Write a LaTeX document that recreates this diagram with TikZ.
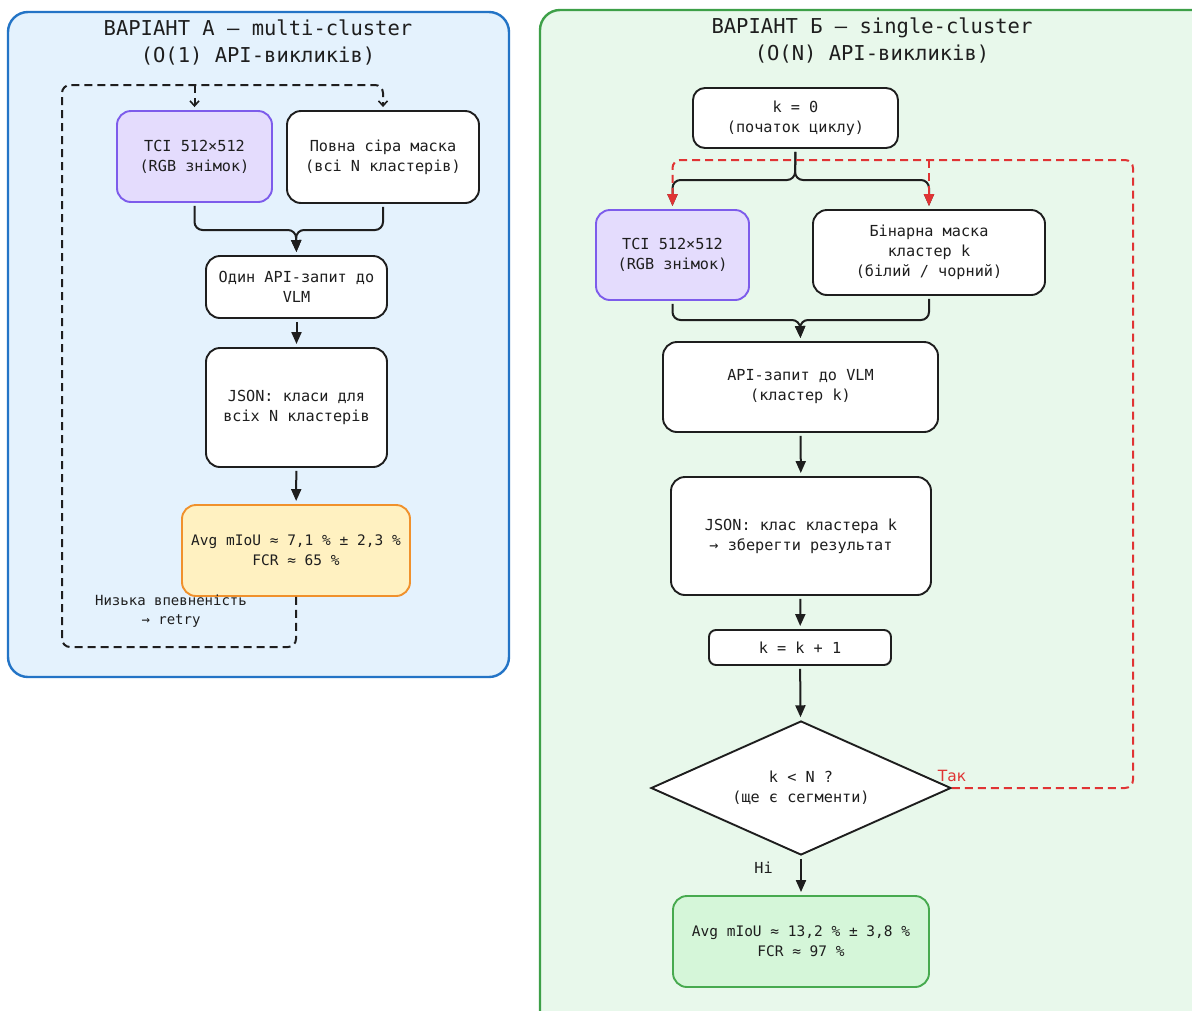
\documentclass[tikz,border=0pt]{standalone}
\usepackage{fontspec}
\setmainfont{DejaVu Sans Mono}
\newfontfamily\sansfont{DejaVu Sans}
\usetikzlibrary{shapes.geometric,arrows.meta,positioning}
\definecolor{cadreBleu}{HTML}{2374C6}
\definecolor{fondBleu}{HTML}{E4F2FD}
\definecolor{cadreVert}{HTML}{3DA048}
\definecolor{fondVert}{HTML}{E8F8EB}
\definecolor{violetImg}{HTML}{7D5CEB}
\definecolor{fondViolet}{HTML}{E4DCFD}
\definecolor{orangeRes}{HTML}{F0912C}
\definecolor{fondJaune}{HTML}{FFF1C1}
\definecolor{vertRes}{HTML}{47AA4F}
\definecolor{fondVertRes}{HTML}{D5F6D9}
\definecolor{rougeBoucle}{HTML}{E03434}
\definecolor{encre}{HTML}{1E1E1E}

\begin{document}
\begin{tikzpicture}[x=1pt,y=-1pt,font=\fontsize{15.2}{20}\selectfont,text=encre,
  boite/.style={draw=encre,line width=1.9pt,fill=white,rounded corners=14pt,
                align=center,inner sep=4pt},
  img/.style={boite,draw=violetImg,fill=fondViolet},
  resA/.style={boite,draw=orangeRes,fill=fondJaune,font=\fontsize{14.5}{20}\selectfont},
  resB/.style={boite,draw=vertRes,fill=fondVertRes,font=\fontsize{14.5}{20}\selectfont},
  decision/.style={diamond,draw=encre,line width=1.9pt,fill=white,align=center,
                   inner sep=0pt,aspect=2.24},
  titre/.style={align=center,font=\fontsize{20.5}{27}\selectfont},
  fleche/.style={draw=encre,line width=2pt,rounded corners=8pt,
                 -{Triangle[length=12pt,width=10pt]},shorten >=3pt,shorten <=3pt},
  retry/.style={draw=encre,line width=2pt,dash pattern=on 8pt off 5pt,
                rounded corners=8pt,-{Straight Barb[length=5pt,width=9pt,line width=1.6pt]},shorten >=3pt},
  boucle/.style={draw=rougeBoucle,line width=2pt,dash pattern=on 8pt off 5pt,
                 rounded corners=8pt,-{Triangle[length=12pt,width=10pt]},shorten >=3pt}]
  \useasboundingbox (0,0) rectangle (1192,1010);
  \clip (0,0) rectangle (1192,1010);
  \fill[white] (0,0) rectangle (1192,1010);

  % Cadres
  \draw[cadreBleu,fill=fondBleu,line width=2.4pt,rounded corners=20pt] (8,12) rectangle (509,677);
  \draw[cadreVert,fill=fondVert,line width=2.4pt,rounded corners=20pt] (540,10) rectangle (1220,1040);
  \node[titre] (titreA) at (258,42.5) {ВАРІАНТ А — multi-cluster\\(O(1) API-викликів)};
  \node[titre] (titreB) at (872,40.5) {ВАРІАНТ Б — single-cluster\\(O(N) API-викликів)};

  % Варіант А
  \node[img,minimum width=155pt,minimum height=91pt] (tciA) at (194.5,156.5) {TCI 512×512\\(RGB знімок)};
  \node[boite,minimum width=192pt,minimum height=92pt] (maskA) at (383,157) {Повна сіра маска\\(всі N кластерів)};
  \node[boite,minimum width=181pt,minimum height=62pt] (oneA) at (296.5,287) {Один API-запит до\\VLM};
  \node[boite,minimum width=181pt,minimum height=119pt] (jsonA) at (296.5,407.5) {JSON: класи для\\всіх N кластерів};
  \node[resA,minimum width=228pt,minimum height=91pt] (resA) at (296,550.5) {Avg mIoU ≈ 7,1 \% ± 2,3 \%\\FCR ≈ 65 \%};
  \node[font=\fontsize{14}{19}\selectfont,align=center] (retryA) at (171,611) {Низька впевненість\\→ retry};

  \coordinate (mA) at (296,230);
  \draw[fleche] (tciA.south) |- (mA) -- (oneA.north);
  \draw[fleche] (maskA.south) |- (mA) -- (oneA.north);
  \draw[fleche] (oneA) -- (jsonA);
  \draw[fleche] (jsonA) -- (resA);

  % Петля retry
  \coordinate (bA) at (62,647);
  \coordinate (tA) at (62,85);
  \draw[retry] (resA.south) |- (bA) -- (tA) -| (maskA.north);
  \draw[retry] (tciA.north |- tA) -- (tciA.north);

  % Варіант Б
  \node[boite,minimum width=205pt,minimum height=60pt,rounded corners=12pt] (k0) at (795.5,118) {k = 0\\(початок циклу)};
  \node[img,minimum width=153pt,minimum height=90pt] (tciB) at (672.5,255) {TCI 512×512\\(RGB знімок)};
  \node[boite,minimum width=232pt,minimum height=85pt] (maskB) at (929,252.5) {Бінарна маска\\кластер k\\(білий / чорний)};
  \node[boite,minimum width=275pt,minimum height=90pt] (apiB) at (800.5,387) {API-запит до VLM\\(кластер k)};
  \node[boite,minimum width=260pt,minimum height=118pt] (jsonB) at (801,536) {JSON: клас кластера k\\→ зберегти результат};
  \node[boite,minimum width=182pt,minimum height=35pt,rounded corners=7pt] (incB) at (800,647.5) {k = k + 1};
  \node[decision,minimum width=300pt,minimum height=134pt] (dec) at (801,788) {k < N ?\\(ще є сегменти)};
  \node[resB,minimum width=256pt,minimum height=91pt] (resB) at (801,941.5) {Avg mIoU ≈ 13,2 \% ± 3,8 \%\\FCR ≈ 97 \%};

  \coordinate (sB) at (795,180);
  \draw[fleche] (k0.south) -- (sB) -| (tciB.north);
  \draw[fleche] (k0.south) -- (sB) -| (maskB.north);
  \coordinate (mB) at (800,320);
  \draw[fleche] (tciB.south) |- (mB) -- (apiB.north);
  \draw[fleche] (maskB.south) |- (mB) -- (apiB.north);
  \draw[fleche] (apiB) -- (jsonB);
  \draw[fleche] (jsonB) -- (incB);
  \draw[fleche] (incB) -- (dec);
  \draw[fleche] (dec) -- node[pos=0.3,left=24pt] {Ні} (resB);

  % Петля k < N
  \coordinate (rB) at (1133,160);
  \draw[boucle] (dec.east) -| (rB) -| (tciB.north);
  \draw[boucle] (maskB.north |- rB) -- (maskB.north);
  \node[rougeBoucle,font=\sansfont\fontsize{15.5}{18}\selectfont,above=3pt of dec.east] (tak) {Так};
\end{tikzpicture}
\end{document}
